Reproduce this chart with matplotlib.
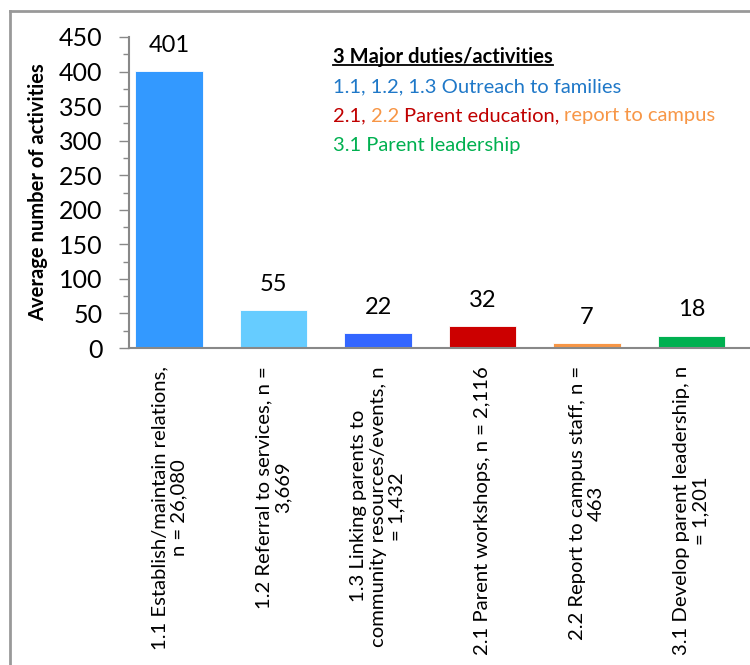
import numpy as np
import matplotlib.pyplot as plt
from matplotlib.lines import Line2D
from matplotlib.ticker import MultipleLocator

plt.rcParams['font.family'] = ['Lato', 'DejaVu Sans']

# data
categories = ["1.1 Establish/maintain relations,\nn = 26,080",
              "1.2 Referral to services, n =\n3,669",
              "1.3 Linking parents to\ncommunity resources/events, n\n= 1,432",
              "2.1 Parent workshops, n = 2,116",
              "2.2 Report to campus staff, n =\n463",
              "3.1 Develop parent leadership, n\n= 1,201"]
values = [401, 55, 22, 32, 7, 18]
bar_colors = ['#3399FF', '#66CCFF', '#3366FF', '#CC0000', '#F79646', '#00B050']

fig = plt.figure(figsize=(7.5, 6.65), dpi=100)
ax = fig.add_axes([129/750, 1 - 348/665, 1 - 129/750, (348 - 37)/665])

x = np.arange(len(values))
ax.bar(x, values, width=0.65, color=bar_colors, edgecolor='white', linewidth=0.6)
for xi, v in zip(x, values):
    ax.annotate(str(v), (xi, v), xytext=(0, 11), textcoords='offset points',
                ha='center', va='bottom', fontsize=17)

ax.set_xlim(-0.383, 5.56)
ax.set_ylim(0, 450)
ax.yaxis.set_major_locator(MultipleLocator(50))
ax.yaxis.set_minor_locator(MultipleLocator(25))
ax.tick_params(axis='y', which='major', length=7, width=1, color='#888888',
               labelsize=18, pad=12)
ax.tick_params(axis='y', which='minor', length=4, width=1, color='#888888')
ax.set_xticks(x)
ax.set_xticklabels(categories, rotation=90, fontsize=14.6, va='top',
                   ha='center', multialignment='center', linespacing=1.15)
ax.tick_params(axis='x', length=0, pad=13)

for s in ['top', 'right']:
    ax.spines[s].set_visible(False)
for s in ['left', 'bottom']:
    ax.spines[s].set_color('#888888')
    ax.spines[s].set_linewidth(1.5)

ax.set_ylabel("Average number of activities", fontsize=14.5, fontweight='bold')
ax.yaxis.set_label_coords(-0.13, 0.5)

# outer chart frame (only top and left visible)
fig.add_artist(Line2D([10/750, 10/750], [0, 1 - 11/665], color='#999999', lw=2))
fig.add_artist(Line2D([10/750, 1], [1 - 11/665, 1 - 11/665], color='#999999', lw=2))

# legend-like text block
title = fig.text(333/750, 1 - 57/665, "3 Major duties/activities", fontsize=14.5,
                 fontweight='bold', va='center', ha='left')

blue = '#1F78C8'
red = '#C00000'
orange = '#F79646'
green = '#00B050'
lines = [[("1.1, 1.2, 1.3 Outreach to families", blue)],
         [("2.1, ", red), ("2.2 ", orange), ("Parent education, ", red),
          ("report to campus", orange)],
         [("3.1 Parent leadership", green)]]
line_y = [87, 116, 145]

for parts, yy in zip(lines, line_y):
    prev = fig.text(333/750, 1 - yy/665, parts[0][0], color=parts[0][1],
                    fontsize=14.5, va='center', ha='left')
    for txt, col in parts[1:]:
        prev = ax.annotate(txt, xy=(1, 0), xycoords=prev, va='bottom', ha='left',
                           color=col, fontsize=14.5, annotation_clip=False)

# underline the title
fig.canvas.draw()
bb = title.get_window_extent().transformed(fig.transFigure.inverted())
fig.add_artist(Line2D([bb.x0, bb.x1], [bb.y0 + 0.003, bb.y0 + 0.003],
                      color='black', lw=1.3))

fig.savefig('out.png', dpi=100)
